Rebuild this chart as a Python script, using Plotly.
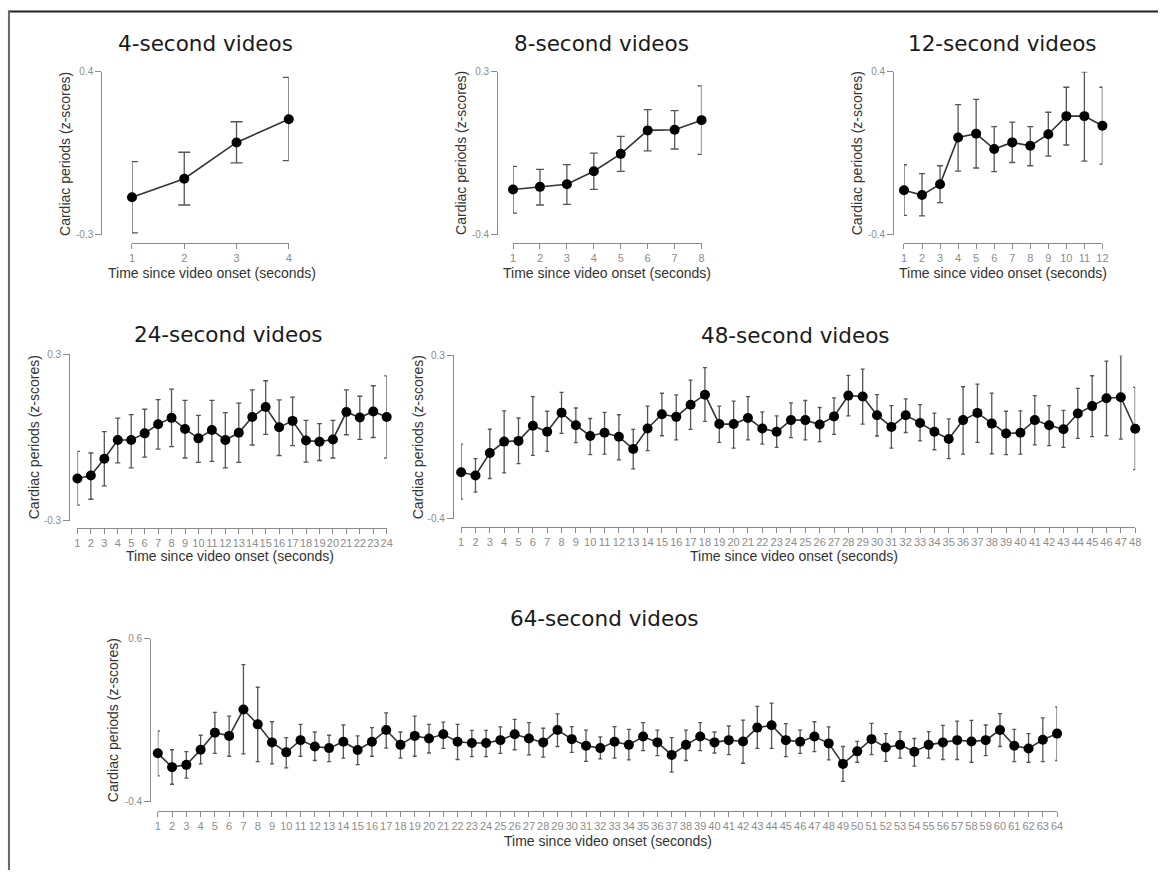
import plotly.graph_objects as go

# ---------------- data ----------------
seconds_4 = list(range(1, 5))
mean_4 = [-0.14, -0.06, 0.096, 0.196]
upper_4 = [0.014, 0.054, 0.185, 0.376]
lower_4 = [-0.293, -0.173, 0.008, 0.018]

seconds_8 = list(range(1, 9))
mean_8 = [-0.206, -0.195, -0.184, -0.128, -0.053, 0.048, 0.051, 0.092]
upper_8 = [-0.107, -0.12, -0.099, -0.05, 0.022, 0.137, 0.133, 0.239]
lower_8 = [-0.308, -0.273, -0.27, -0.206, -0.128, -0.04, -0.032, -0.055]

seconds_12 = list(range(1, 13))
mean_12 = [-0.182, -0.206, -0.153, 0.077, 0.096, 0.020, 0.053, 0.036, 0.093, 0.182, 0.182, 0.135]
upper_12 = [-0.057, -0.101, -0.062, 0.239, 0.264, 0.13, 0.153, 0.13, 0.201, 0.324, 0.4, 0.324]
lower_12 = [-0.306, -0.308, -0.243, -0.088, -0.073, -0.091, -0.046, -0.062, -0.015, 0.04, -0.039, -0.054]

seconds_24 = list(range(1, 25))
mean_24 = [-0.148, -0.137, -0.077, -0.009, -0.009, 0.015, 0.048, 0.071, 0.031, -0.003,
           0.027, -0.009, 0.017, 0.074, 0.11, 0.037, 0.06, -0.011, -0.015, -0.007,
           0.092, 0.072, 0.094, 0.074]
upper_24 = [-0.05, -0.056, 0.021, 0.07, 0.083, 0.102, 0.137, 0.175, 0.134, 0.08,
            0.134, 0.09, 0.124, 0.172, 0.205, 0.136, 0.146, 0.062, 0.05, 0.062,
            0.172, 0.149, 0.187, 0.223]
lower_24 = [-0.244, -0.223, -0.175, -0.092, -0.11, -0.071, -0.042, -0.033, -0.074, -0.09,
            -0.086, -0.11, -0.09, -0.027, 0.011, -0.065, -0.029, -0.089, -0.083, -0.074,
            0.01, -0.007, 0.0, -0.074]

seconds_48 = list(range(1, 49))
mean_48 = [-0.2, -0.214, -0.118, -0.069, -0.066, -0.001, -0.027, 0.055, 0.001, -0.045,
           -0.031, -0.048, -0.101, -0.013, 0.048, 0.037, 0.089, 0.132, 0.006, 0.006,
           0.032, -0.013, -0.027, 0.023, 0.023, 0.004, 0.039, 0.128, 0.124, 0.044,
           -0.006, 0.044, 0.011, -0.027, -0.058, 0.023, 0.054, 0.008, -0.034, -0.031,
           0.023, 0.001, -0.016, 0.051, 0.083, 0.117, 0.121, -0.014]
upper_48 = [-0.08, -0.142, -0.016, 0.063, 0.032, 0.124, 0.061, 0.142, 0.075, 0.03,
            0.056, 0.046, -0.017, 0.083, 0.138, 0.131, 0.194, 0.248, 0.083, 0.104,
            0.124, 0.058, 0.041, 0.097, 0.107, 0.077, 0.118, 0.215, 0.241, 0.132,
            0.085, 0.114, 0.089, 0.053, 0.028, 0.166, 0.177, 0.139, 0.061, 0.063,
            0.128, 0.085, 0.065, 0.159, 0.213, 0.276, 0.303, 0.163]
lower_48 = [-0.315, -0.285, -0.227, -0.203, -0.163, -0.128, -0.111, -0.034, -0.073, -0.125,
            -0.123, -0.147, -0.186, -0.108, -0.044, -0.062, -0.017, 0.018, -0.072, -0.097,
            -0.062, -0.08, -0.094, -0.052, -0.062, -0.069, -0.038, 0.041, 0.006, -0.045,
            -0.097, -0.03, -0.066, -0.104, -0.142, -0.123, -0.072, -0.121, -0.125, -0.123,
            -0.083, -0.086, -0.094, -0.055, -0.048, -0.044, -0.058, -0.189]

seconds_64 = list(range(1, 65))
mean_64 = [-0.103, -0.188, -0.174, -0.081, 0.024, 0.004, 0.166, 0.075, -0.036, -0.097,
           -0.022, -0.061, -0.071, -0.032, -0.083, -0.032, 0.040, -0.051, 0.004, -0.012,
           0.014, -0.032, -0.040, -0.040, -0.022, 0.014, -0.012, -0.036, 0.040, -0.016,
           -0.057, -0.071, -0.032, -0.051, 0.0, -0.036, -0.113, -0.051, 0.0, -0.036,
           -0.022, -0.030, 0.055, 0.069, -0.022, -0.032, 0.0, -0.042, -0.168, -0.091,
           -0.016, -0.067, -0.051, -0.093, -0.051, -0.036, -0.022, -0.030, -0.022, 0.040,
           -0.057, -0.073, -0.020, 0.018]
upper_64 = [0.034, -0.081, -0.093, 0.008, 0.149, 0.125, 0.442, 0.303, 0.091, -0.006,
            0.075, 0.028, 0.008, 0.071, 0.004, 0.055, 0.145, 0.028, 0.125, 0.075,
            0.089, 0.075, 0.038, 0.038, 0.059, 0.105, 0.085, 0.051, 0.139, 0.061,
            0.040, -0.002, 0.061, 0.044, 0.085, 0.040, -0.006, 0.040, 0.085, 0.028,
            0.065, 0.101, 0.186, 0.206, 0.079, 0.040, 0.091, 0.059, -0.061, -0.030,
            0.081, 0.018, 0.030, -0.012, 0.030, 0.069, 0.095, 0.099, 0.071, 0.141,
            0.044, 0.018, 0.115, 0.182]
lower_64 = [-0.242, -0.293, -0.255, -0.168, -0.103, -0.121, -0.107, -0.154, -0.168, -0.192,
            -0.121, -0.147, -0.154, -0.133, -0.172, -0.121, -0.071, -0.133, -0.121, -0.101,
            -0.073, -0.141, -0.123, -0.123, -0.103, -0.081, -0.113, -0.127, -0.061, -0.097,
            -0.152, -0.137, -0.133, -0.143, -0.087, -0.117, -0.218, -0.147, -0.087, -0.101,
            -0.111, -0.164, -0.073, -0.073, -0.123, -0.103, -0.093, -0.143, -0.275, -0.158,
            -0.111, -0.152, -0.133, -0.182, -0.133, -0.141, -0.141, -0.158, -0.117, -0.061,
            -0.154, -0.158, -0.154, -0.147]

titles = ["4-second videos", "8-second videos", "12-second videos",
          "24-second videos", "48-second videos", "64-second videos"]
y_limits = [(-0.3, 0.4), (-0.4, 0.3), (-0.4, 0.4), (-0.3, 0.3), (-0.4, 0.3), (-0.4, 0.6)]
x_title = "Time since video onset (seconds)"
y_title = "Cardiac periods (z-scores)"

# ---------------- layout geometry (pixels of the 1164x876 canvas) ----------------
W, H = 1164, 876
geom = [
    dict(yx=99, yt=66.7, yb=231.7, xy=240, x0=130, x1=288, tt=(204, 38), xt=(211, 271), yl=(62.5, 150), cap=6),
    dict(yx=498, yt=66.7, yb=231.7, xy=240, x0=514, x1=704, tt=(603, 38), xt=(609, 271), yl=(461.5, 149), cap=4),
    dict(yx=897, yt=66.7, yb=231.7, xy=240, x0=908, x1=1108, tt=(1007, 38), xt=(1008, 271), yl=(861, 149), cap=3),
    dict(yx=66.7, yt=353.3, yb=521.7, xy=529.3, x0=75, x1=386.7, tt=(227.5, 333), xt=(229, 558), yl=(31, 437.5), cap=2.5),
    dict(yx=453.3, yt=354.3, yb=520, xy=528.3, x0=461.7, x1=1141, tt=(799, 334), xt=(797.5, 558), yl=(418.5, 437), cap=2),
    dict(yx=148.3, yt=641.7, yb=806.7, xy=816, x0=156, x1=1062.3, tt=(606, 621.5), xt=(609.5, 846.7), yl=(111, 724), cap=2),
]

series = [
    (seconds_4, mean_4, upper_4, lower_4),
    (seconds_8, mean_8, upper_8, lower_8),
    (seconds_12, mean_12, upper_12, lower_12),
    (seconds_24, mean_24, upper_24, lower_24),
    (seconds_48, mean_48, upper_48, lower_48),
    (seconds_64, mean_64, upper_64, lower_64),
]

AXIS_GREY = "#8a8a8a"
TICK_GREY = "#8c8c8c"
TEXT_DARK = "#333333"


def px(x):
    return x / W


def py(y):
    return 1 - y / H


fig = go.Figure()
annotations = []
layout_axes = {}

for i, ((xs, m, up, lo), g, (ymin, ymax), title) in enumerate(zip(series, geom, y_limits, titles), start=1):
    sfx = "" if i == 1 else str(i)
    plus = [u - v for u, v in zip(up, m)]
    minus = [v - l for v, l in zip(m, lo)]
    fig.add_trace(go.Scatter(
        x=xs, y=m, mode="lines+markers",
        xaxis="x" + sfx, yaxis="y" + sfx,
        line=dict(color="#333333", width=1.6),
        marker=dict(color="black", size=10),
        error_y=dict(type="data", symmetric=False, array=plus, arrayminus=minus,
                     color="#555555", thickness=1.3, width=g["cap"]),
        cliponaxis=False, showlegend=False, hoverinfo="x+y",
    ))
    layout_axes["xaxis" + sfx] = dict(
        domain=[px(g["x0"]), px(g["x1"])], range=[xs[0], xs[-1]],
        anchor="free", position=py(g["xy"]),
        tickmode="array", tickvals=xs, ticktext=[str(v) for v in xs],
        tickangle=0, ticks="outside", ticklen=5, tickwidth=1, tickcolor=AXIS_GREY,
        showline=True, linecolor=AXIS_GREY, linewidth=1,
        showgrid=False, zeroline=False,
        tickfont=dict(family="Liberation Sans, Arial, sans-serif", size=11, color=TICK_GREY),
    )
    layout_axes["yaxis" + sfx] = dict(
        domain=[py(g["yb"]), py(g["yt"])], range=[ymin, ymax],
        anchor="free", position=px(g["yx"]),
        tickmode="array", tickvals=[ymin, ymax], ticktext=[f"{ymin:g}", f"{ymax:g}"],
        ticks="outside", ticklen=6, tickwidth=1, tickcolor=AXIS_GREY,
        showline=True, linecolor=AXIS_GREY, linewidth=1,
        showgrid=False, zeroline=False,
        tickfont=dict(family="Liberation Sans, Arial, sans-serif", size=10, color=TICK_GREY),
    )
    annotations.append(dict(
        text=title, x=px(g["tt"][0]), y=py(g["tt"][1]), xref="paper", yref="paper",
        xanchor="center", yanchor="middle", showarrow=False,
        font=dict(family="DejaVu Sans, Verdana, sans-serif", size=21.5, color="#1a1a1a"),
    ))
    annotations.append(dict(
        text=x_title, x=px(g["xt"][0]), y=py(g["xt"][1]), xref="paper", yref="paper",
        xanchor="center", yanchor="middle", showarrow=False,
        font=dict(family="Liberation Sans, Arial, sans-serif", size=14, color=TEXT_DARK),
    ))
    annotations.append(dict(
        text=y_title, x=px(g["yl"][0]), y=py(g["yl"][1]), xref="paper", yref="paper",
        xanchor="center", yanchor="middle", showarrow=False, textangle=-90,
        font=dict(family="Liberation Sans, Arial, sans-serif", size=14, color=TEXT_DARK),
    ))

shapes = [
    dict(type="line", xref="paper", yref="paper", x0=px(5), x1=1, y0=py(5.5), y1=py(5.5),
         line=dict(color="#222222", width=2)),
    dict(type="line", xref="paper", yref="paper", x0=px(6), x1=px(6), y0=py(5), y1=0,
         line=dict(color="#666666", width=2)),
]

fig.update_layout(
    autosize=True,
    margin=dict(l=0, r=0, t=0, b=0, pad=0),
    paper_bgcolor="white", plot_bgcolor="white",
    annotations=annotations, shapes=shapes,
    **layout_axes,
)

fig.write_html(
    "out.html",
    default_width="100vw",
    default_height="100vh",
    config={"displayModeBar": False, "responsive": True},
    post_script=(
        "document.documentElement.style.margin='0';"
        "document.documentElement.style.overflow='hidden';"
        "document.body.style.margin='0';"
        "document.body.style.padding='0';"
        "document.body.style.overflow='hidden';"
        "window.dispatchEvent(new Event('resize'));"
    ),
)
